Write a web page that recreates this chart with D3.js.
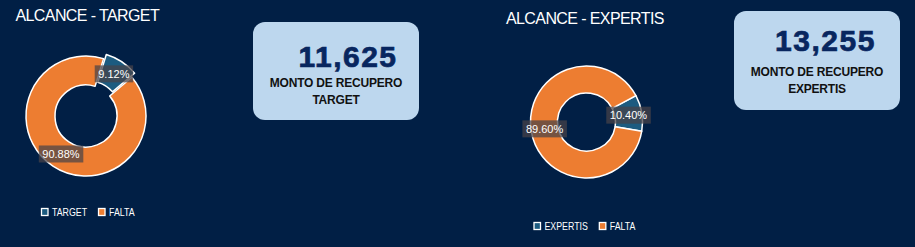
<!DOCTYPE html>
<meta charset="UTF-8">
<style>
body { margin: 0; background: #011f45; }
svg { display: block; }
.title { font: 16px "Liberation Sans", Arial, sans-serif; fill: #fff; letter-spacing: -0.6px; }
.lbl { font: 11px "Liberation Sans", Arial, sans-serif; fill: #fff; }
.legend text { font: 11px "Liberation Sans", Arial, sans-serif; fill: #fff; }
.kpi-num { font: bold 30px "Liberation Sans", Arial, sans-serif; fill: #08265f; stroke: #08265f; stroke-width: 0.7px; letter-spacing: 1.5px; }
.kpi-txt { font: bold 12px "Liberation Sans", Arial, sans-serif; fill: #111; letter-spacing: -0.2px; }
</style>
<body>
<script src="https://d3js.org/d3.v7.min.js"></script>
<script>
// data
var titles = ["ALCANCE - TARGET", "ALCANCE - EXPERTIS"];
var categoriesTarget = ["TARGET", "FALTA"];
var valuesTarget = [9.12, 90.88];
var categoriesExpertis = ["EXPERTIS", "FALTA"];
var valuesExpertis = [10.40, 89.60];
var kpiValues = [11625, 13255];
var kpiCaption = "MONTO DE RECUPERO";
var kpiNames = ["TARGET", "EXPERTIS"];

var colors = ["#1c5b80", "#ed7d31"];
var W = 915, H = 247;

var svg = d3.select("body").append("svg")
    .attr("width", W)
    .attr("height", H);

svg.append("rect").attr("width", W).attr("height", H).attr("fill", "#011f45");

var fmtPct = function(v) { return v.toFixed(2) + "%"; };

// one doughnut panel
function donut(cfg) {
  var g = svg.append("g");

  g.append("text").attr("class", "title")
      .attr("x", cfg.titleX).attr("y", cfg.titleY)
      .text(cfg.title);

  var start = cfg.startDeg * Math.PI / 180;
  var pie = d3.pie().sort(null).startAngle(start).endAngle(start + 2 * Math.PI);
  var arcs = pie(cfg.values);
  var arc = d3.arc().innerRadius(cfg.r0).outerRadius(cfg.r1);
  var mid = d3.arc().innerRadius((cfg.r0 + cfg.r1) / 2).outerRadius((cfg.r0 + cfg.r1) / 2);

  var plot = g.append("g").attr("transform", "translate(" + cfg.cx + "," + cfg.cy + ")");

  function shift(d, i) {
    var e = i === 0 ? cfg.explode : 0;
    var a = (d.startAngle + d.endAngle) / 2;
    return [e * Math.sin(a), -e * Math.cos(a)];
  }

  plot.selectAll("path").data(arcs).enter().append("path")
      .attr("d", arc)
      .attr("transform", function(d, i) { var s = shift(d, i); return "translate(" + s[0] + "," + s[1] + ")"; })
      .attr("fill", function(d, i) { return colors[i]; })
      .attr("stroke", "#fff")
      .attr("stroke-width", 1.5)
      .attr("stroke-linejoin", "round");

  // data labels with dark translucent boxes
  var lab = plot.selectAll("g.lab").data(arcs).enter().append("g")
      .attr("class", "lab")
      .attr("transform", function(d, i) {
        var c = mid.centroid(d), s = shift(d, i);
        return "translate(" + (c[0] + s[0]) + "," + (c[1] + s[1]) + ")";
      });
  lab.append("text").attr("class", "lbl")
      .attr("text-anchor", "middle")
      .attr("dy", "0.36em")
      .text(function(d) { return fmtPct(d.data); });
  lab.insert("rect", "text")
      .each(function() {
        var b = this.parentNode.querySelector("text").getBBox();
        d3.select(this)
          .attr("x", b.x - 3.5).attr("y", -8.5)
          .attr("width", b.width + 7).attr("height", 17);
      })
      .attr("fill", "rgba(72,66,72,0.72)");

  // legend (text squeezed horizontally like the original narrow font)
  var sx = 0.8;
  var leg = g.append("g").attr("class", "legend")
      .attr("transform", "translate(" + cfg.legX + "," + cfg.legY + ")");
  var x = 0;
  cfg.categories.forEach(function(c, i) {
    var it = leg.append("g").attr("transform", "translate(" + x + ",0)");
    it.append("rect").attr("x", 0.5).attr("y", -7.5).attr("width", 6.5).attr("height", 7)
        .attr("fill", colors[i]).attr("stroke", "#fff").attr("stroke-width", 1.3);
    var t = it.append("text").attr("transform", "translate(11,0) scale(" + sx + ",1)").text(c);
    x += 11 + t.node().getComputedTextLength() * sx + 11;
  });
}

donut({ title: titles[0], titleX: 15.5, titleY: 21, values: valuesTarget, categories: categoriesTarget,
        cx: 86, cy: 116, r0: 31, r1: 60, startDeg: 17, explode: 5, legX: 41, legY: 216 });
donut({ title: titles[1], titleX: 506, titleY: 23.5, values: valuesExpertis, categories: categoriesExpertis,
        cx: 586.5, cy: 122, r0: 29, r1: 56, startDeg: 62, explode: 0, legX: 533.5, legY: 230 });

// KPI cards
var fmtNum = d3.format(",");
function card(c) {
  var g = svg.append("g").attr("transform", "translate(" + c.x + "," + c.y + ")");
  g.append("rect").attr("width", c.w).attr("height", c.h).attr("rx", 12).attr("ry", 12)
      .attr("fill", "#bdd7ee");
  g.append("text").attr("class", "kpi-num").attr("text-anchor", "middle")
      .attr("x", c.numX).attr("y", c.numY).text(fmtNum(c.value));
  g.append("text").attr("class", "kpi-txt").attr("text-anchor", "middle")
      .attr("x", c.w / 2).attr("y", c.l1).text(kpiCaption);
  g.append("text").attr("class", "kpi-txt").attr("text-anchor", "middle")
      .attr("x", c.w / 2).attr("y", c.l2).text(c.name);
}
card({ x: 253, y: 22, w: 166, h: 98, value: kpiValues[0], name: kpiNames[0], numX: 95, numY: 44.5, l1: 64.5, l2: 82 });
card({ x: 734, y: 11, w: 166, h: 99, value: kpiValues[1], name: kpiNames[1], numX: 91.5, numY: 40, l1: 65, l2: 82 });
</script>
</body>
